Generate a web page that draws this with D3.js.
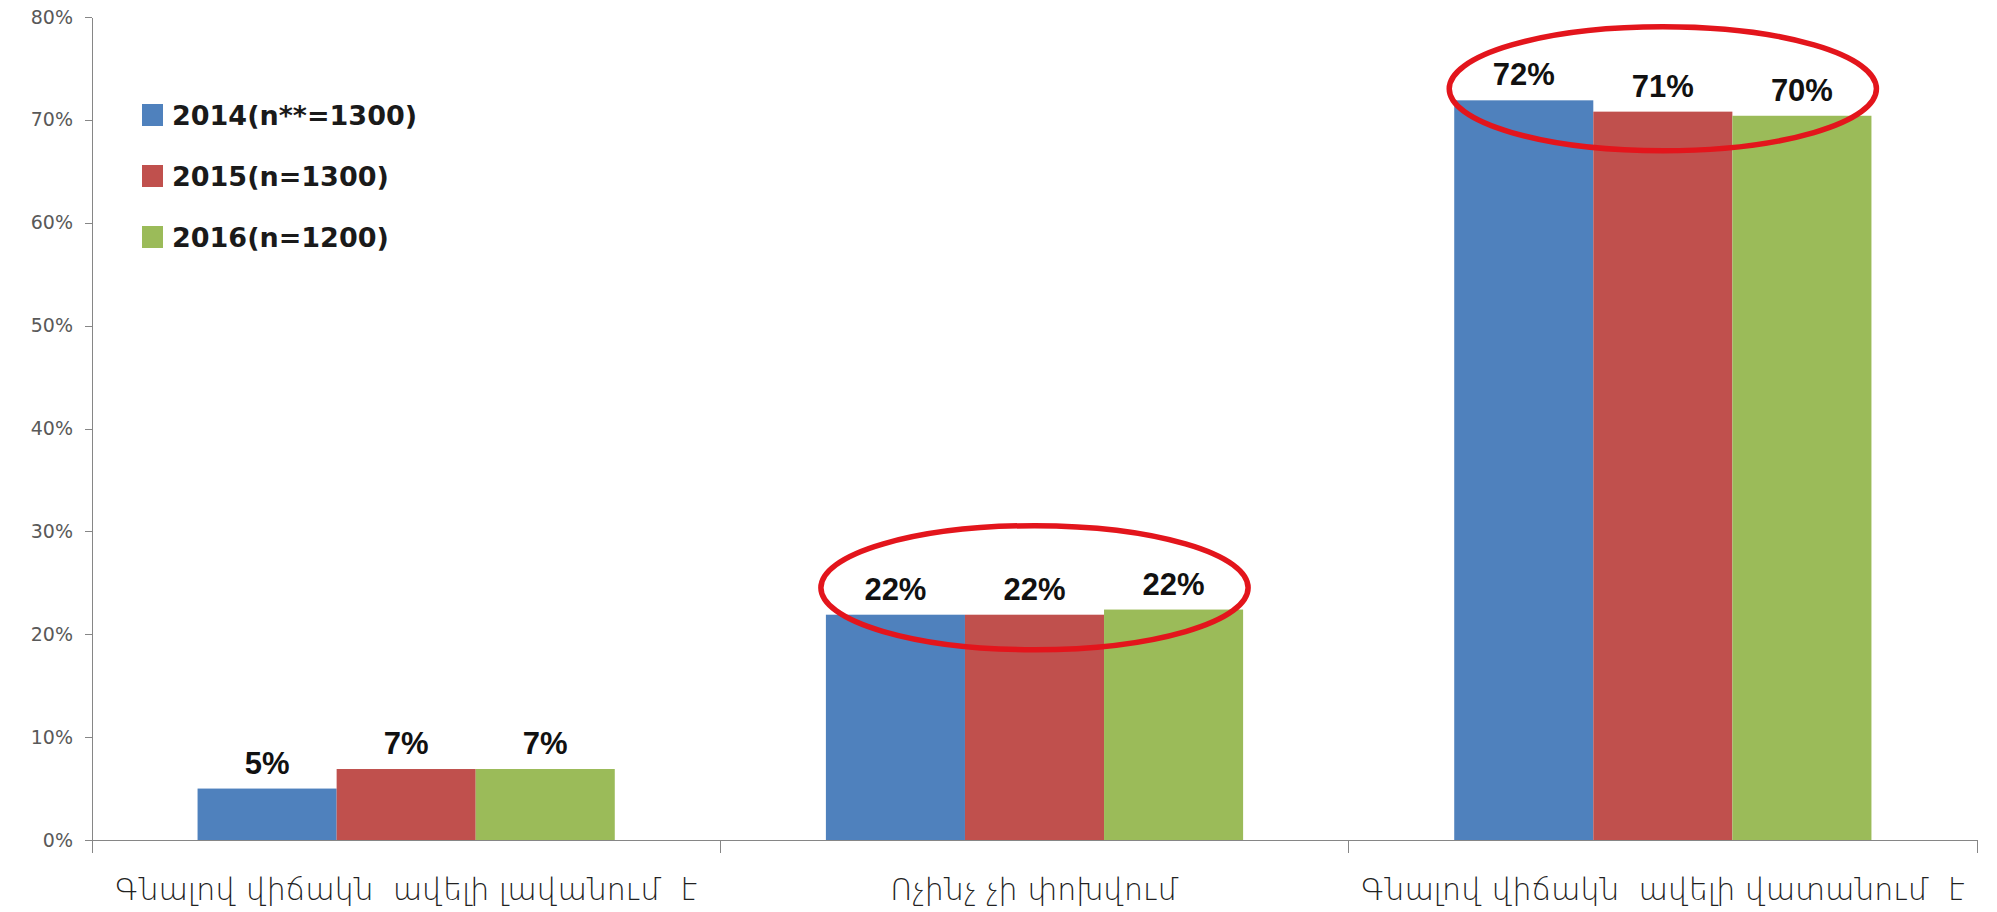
<!DOCTYPE html>
<html>
<head>
<meta charset="utf-8">
<script src="https://cdn.jsdelivr.net/npm/d3@7/dist/d3.min.js"></script>
<style>
    body { margin: 0; background: #ffffff; }
    .axis path, .axis line { stroke: #868686; shape-rendering: crispEdges; }
</style>
</head>
<body>
<div id="chartArea"></div>
<script>
// categories and series
var categories = ["Գնալով վիճակն  ավելի լավանում  է", "Ոչինչ չի փոխվում", "Գնալով վիճակն  ավելի վատանում  է"];
var seriesNames = ["2014(n**=1300)", "2015(n=1300)", "2016(n=1200)"];
var values2014 = [5.0, 21.9, 71.9];
var values2015 = [6.9, 21.9, 70.8];
var values2016 = [6.9, 22.4, 70.4];
var yTicks = [0, 10, 20, 30, 40, 50, 60, 70, 80];
// categories circled in red
var circledCategories = [1, 2];

var seriesValues = [values2014, values2015, values2016];
var colors = ["#4f81bd", "#c0504d", "#9bbb59"];

var width = 1997;
var height = 912;
var padding = {top: 17, right: 20, bottom: 72, left: 92};

var svg = d3.select("#chartArea")
    .append("svg")
    .attr("width", width)
    .attr("height", height);

// scales
var xScale = d3.scaleBand()
    .domain(d3.range(categories.length))
    .range([padding.left, width - padding.right])
    .paddingInner(0.336)
    .paddingOuter(0.168);
var xSub = d3.scaleBand()
    .domain(d3.range(seriesNames.length))
    .range([0, xScale.bandwidth()]);
var yScale = d3.scaleLinear()
    .domain([0, 80])
    .range([height - padding.bottom, padding.top]);

// y axis
var gyAxis = svg.append("g").attr("class", "axis")
    .attr("transform", "translate(" + padding.left + ",0)")
    .call(d3.axisLeft(yScale).tickValues(yTicks).tickSize(7).tickSizeOuter(0).tickPadding(12)
        .tickFormat(function (d) { return d + "%"; }));
gyAxis.selectAll("text")
    .attr("font-family", "DejaVu Sans")
    .attr("font-size", 19)
    .attr("fill", "#595959");

// x axis: ticks at the category borders
var step = xScale.step();
var borders = d3.range(categories.length + 1).map(function (i) { return padding.left + i * step; });
var gxAxis = svg.append("g").attr("class", "axis")
    .attr("transform", "translate(0," + yScale(0) + ")");
gxAxis.append("line")
    .attr("x1", padding.left - 7).attr("x2", borders[borders.length - 1])
    .attr("y1", 0).attr("y2", 0);
gxAxis.selectAll(".border")
    .data(borders)
    .enter().append("line")
    .attr("class", "border")
    .attr("x1", function (d) { return d; }).attr("x2", function (d) { return d; })
    .attr("y1", 0).attr("y2", 13);
gxAxis.selectAll(".catLabel")
    .data(categories)
    .enter().append("text")
    .attr("class", "catLabel")
    .attr("x", function (d, i) { return xScale(i) + xScale.bandwidth() / 2; })
    .attr("y", 60)
    .attr("text-anchor", "middle")
    .attr("font-family", "DejaVu Sans")
    .attr("font-weight", 200)
    .attr("font-size", 30)
    .attr("fill", "#222222")
    .style("white-space", "pre")
    .text(function (d) { return d; });

// bars
var groups = svg.append("g")
    .selectAll("g")
    .data(seriesValues)
    .enter().append("g")
    .attr("fill", function (d, s) { return colors[s]; });
groups.selectAll("rect")
    .data(function (d, s) { return d.map(function (v, i) { return {s: s, i: i, v: v}; }); })
    .enter().append("rect")
    .attr("x", function (d) { return xScale(d.i) + xSub(d.s); })
    .attr("y", function (d) { return yScale(d.v); })
    .attr("width", xSub.bandwidth())
    .attr("height", function (d) { return yScale(0) - yScale(d.v); });

// value labels
groups.selectAll("text")
    .data(function (d, s) { return d.map(function (v, i) { return {s: s, i: i, v: v}; }); })
    .enter().append("text")
    .attr("x", function (d) { return xScale(d.i) + xSub(d.s) + xSub.bandwidth() / 2; })
    .attr("y", function (d) { return yScale(d.v) - 15; })
    .attr("text-anchor", "middle")
    .attr("font-family", "Liberation Sans")
    .attr("font-weight", "bold")
    .attr("font-size", 31)
    .attr("fill", "#111111")
    .text(function (d) { return Math.round(d.v) + "%"; });

// red ellipses
svg.append("g")
    .selectAll("ellipse")
    .data(circledCategories)
    .enter().append("ellipse")
    .attr("cx", function (i) { return xScale(i) + xScale.bandwidth() / 2; })
    .attr("cy", function (i) {
        var low = d3.min(seriesValues, function (vals) { return vals[i]; });
        return yScale(low) - 27;
    })
    .attr("rx", xScale.bandwidth() / 2 + 5)
    .attr("ry", 62)
    .attr("fill", "none")
    .attr("stroke", "#e3151c")
    .attr("stroke-width", 5.5);

// legend
var legend = svg.append("g")
    .selectAll("g")
    .data(seriesNames)
    .enter().append("g")
    .attr("transform", function (d, i) { return "translate(142," + (115 + i * 61) + ")"; });
legend.append("rect")
    .attr("x", 0).attr("y", -11)
    .attr("width", 21).attr("height", 22)
    .attr("fill", function (d, i) { return colors[i]; });
legend.append("text")
    .attr("x", 30).attr("y", 10)
    .attr("font-family", "DejaVu Sans")
    .attr("font-weight", "bold")
    .attr("font-size", 27)
    .attr("fill", "#1a1a1a")
    .text(function (d) { return d; });
</script>
</body>
</html>
